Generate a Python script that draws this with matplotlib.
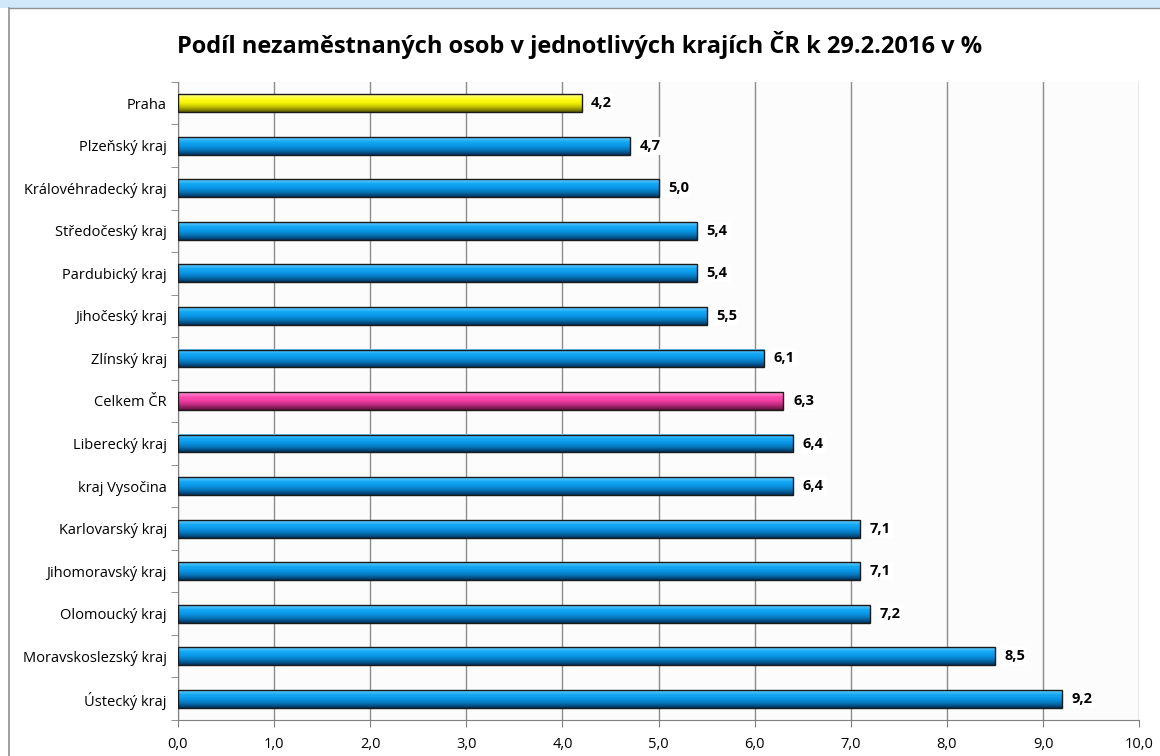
"""Podíl nezaměstnaných osob v krajích ČR k 29.2.2016 – horizontal bars."""
import matplotlib
matplotlib.use("Agg")
import matplotlib.pyplot as plt
import numpy as np
from matplotlib.colors import LinearSegmentedColormap
from matplotlib.patches import Rectangle

regions = ["Praha", "Plzeňský kraj", "Královéhradecký kraj", "Středočeský kraj",
           "Pardubický kraj", "Jihočeský kraj", "Zlínský kraj", "Celkem ČR",
           "Liberecký kraj", "kraj Vysočina", "Karlovarský kraj", "Jihomoravský kraj",
           "Olomoucký kraj", "Moravskoslezský kraj", "Ústecký kraj"]
shares = [4.2, 4.7, 5.0, 5.4, 5.4, 5.5, 6.1, 6.3, 6.4, 6.4, 7.1, 7.1, 7.2, 8.5, 9.2]
highlight = {"Praha": "yellow", "Celkem ČR": "pink"}

# gradients top -> bottom of each bar
grads = {
    "blue": ["#6fd0ff", "#14a8f5", "#0a96e6", "#0670b0", "#02325a"],
    "yellow": ["#ffff99", "#ffff22", "#f2f200", "#b8b800", "#5a5a00"],
    "pink": ["#ff9ad6", "#ff4fb4", "#f03ca0", "#b02878", "#5a1038"],
}
cmaps = {k: LinearSegmentedColormap.from_list(k, v) for k, v in grads.items()}

plt.rcParams["font.family"] = ["Open Sans", "DejaVu Sans"]

fig = plt.figure(figsize=(11.6, 7.56), dpi=100)
fig.patch.set_facecolor("white")
# light blue band on top and chart frame
fig.add_artist(Rectangle((0, 0.989), 1, 0.011, transform=fig.transFigure,
                         facecolor="#cfe9fa", edgecolor="none"))
fig.add_artist(plt.Line2D([0.008, 0.008], [0, 0.989], transform=fig.transFigure,
                          color="#909090", lw=1.2))
fig.add_artist(plt.Line2D([0.008, 1], [0.989, 0.989], transform=fig.transFigure,
                          color="#909090", lw=1.0))

ax = fig.add_axes([0.1534, 0.0476, 0.8286, 0.844])
ax.set_facecolor("#fcfcfc")

n = len(regions)
ypos = np.arange(n)
h = 0.42
grad = np.linspace(0, 1, 64).reshape(-1, 1)
for y, name, v in zip(ypos, regions, shares):
    kind = highlight.get(name, "blue")
    ax.imshow(grad, cmap=cmaps[kind], aspect="auto", interpolation="bilinear",
              extent=[0, v, y + h / 2, y - h / 2], zorder=3)
    ax.add_patch(Rectangle((0, y - h / 2), v, h, facecolor="none",
                           edgecolor="#1a1a1a", lw=1.0, zorder=4))
    ax.text(v + 0.1, y, f"{v:.1f}".replace(".", ","), va="center", ha="left",
            fontsize=10.5, fontweight="bold", zorder=5,
            bbox=dict(facecolor="white", edgecolor="none", pad=1.5))

ax.set_xlim(0, 10)
ax.set_ylim(n - 0.5, -0.5)
ax.set_xticks(np.arange(0, 11, 1))
ax.set_xticklabels([f"{x:.1f}".replace(".", ",") for x in range(11)], fontsize=10.5)
ax.set_yticks(ypos)
ax.set_yticklabels(regions, fontsize=10.5)
ax.set_yticks(np.arange(-0.5, n, 1), minor=True)
ax.tick_params(axis="y", which="major", length=0, pad=8)
ax.tick_params(axis="y", which="minor", length=5, color="#808080")
ax.tick_params(axis="x", length=5, color="#808080", pad=7)
ax.grid(axis="x", color="#8c8c8c", lw=1.0, zorder=1)
ax.set_axisbelow(True)
for side in ["top", "right"]:
    ax.spines[side].set_visible(False)
ax.spines["left"].set_color("#808080")
ax.spines["bottom"].set_color("#808080")

fig.text(0.5, 0.94, "Podíl nezaměstnaných osob v jednotlivých krajích ČR k 29.2.2016 v %",
         ha="center", va="center", fontsize=17, fontweight="bold")

fig.savefig("out.png", dpi=100)
